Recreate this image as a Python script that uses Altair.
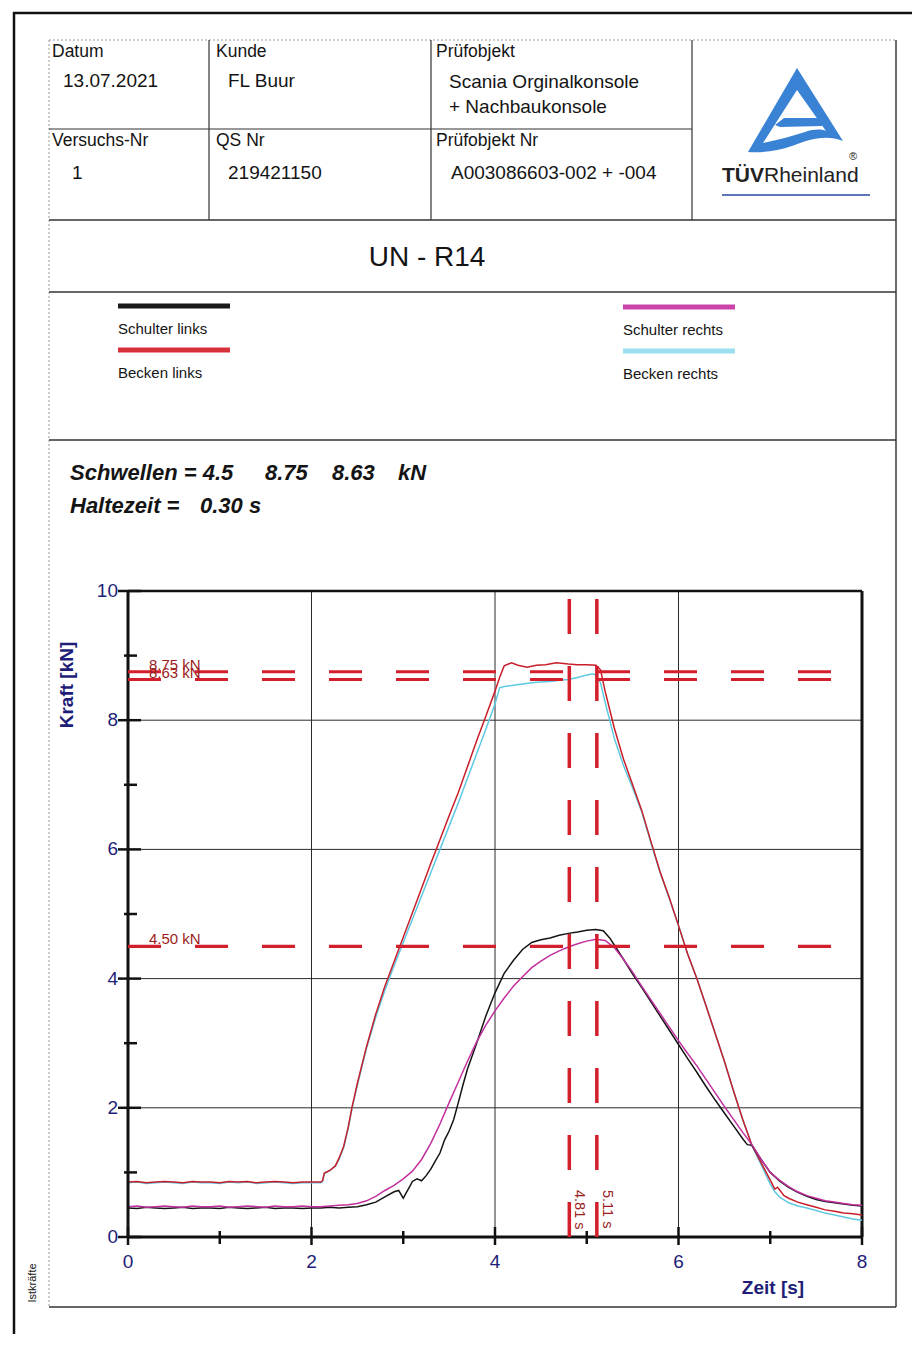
import altair as alt
import pandas as pd

# ---------------- data ----------------
SCHULTER_LINKS = [
    (0.0, 0.45), (0.1, 0.44), (0.2, 0.46), (0.3, 0.45), (0.4, 0.44), (0.5, 0.45), (0.6, 0.46),
    (0.7, 0.44), (0.8, 0.45), (0.9, 0.45), (1.0, 0.44), (1.1, 0.46), (1.2, 0.45), (1.3, 0.44),
    (1.4, 0.45), (1.5, 0.46), (1.6, 0.44), (1.7, 0.45), (1.8, 0.45), (1.9, 0.44), (2.0, 0.45),
    (2.1, 0.45), (2.2, 0.46), (2.3, 0.45), (2.4, 0.46), (2.5, 0.47), (2.6, 0.5), (2.7, 0.54),
    (2.8, 0.62), (2.9, 0.7), (2.95, 0.72), (3.0, 0.6), (3.03, 0.68), (3.07, 0.78), (3.1, 0.86),
    (3.15, 0.9), (3.2, 0.87), (3.25, 0.95), (3.3, 1.05), (3.35, 1.18), (3.4, 1.3), (3.45, 1.5),
    (3.5, 1.64), (3.55, 1.82), (3.6, 2.08), (3.65, 2.35), (3.7, 2.6), (3.8, 3.0), (3.9, 3.42),
    (4.0, 3.78), (4.1, 4.08), (4.2, 4.28), (4.3, 4.45), (4.4, 4.56), (4.5, 4.6), (4.6, 4.63),
    (4.7, 4.67), (4.8, 4.7), (4.9, 4.72), (5.0, 4.75), (5.1, 4.76), (5.18, 4.74), (5.25, 4.63),
    (5.3, 4.52), (5.4, 4.3), (5.5, 4.07), (5.6, 3.86), (5.7, 3.64), (5.8, 3.42), (5.9, 3.2),
    (6.0, 2.98), (6.1, 2.76), (6.2, 2.55), (6.3, 2.33), (6.4, 2.12), (6.5, 1.92), (6.6, 1.72),
    (6.7, 1.52), (6.75, 1.43), (6.8, 1.42), (6.9, 1.2), (7.0, 1.0), (7.1, 0.87), (7.2, 0.77),
    (7.3, 0.69), (7.4, 0.63), (7.5, 0.58), (7.6, 0.55), (7.7, 0.53), (7.8, 0.51), (7.9, 0.49),
    (8.0, 0.48),
]
SCHULTER_RECHTS = [
    (0.0, 0.47), (0.1, 0.48), (0.2, 0.46), (0.3, 0.47), (0.4, 0.48), (0.5, 0.47), (0.6, 0.46),
    (0.7, 0.48), (0.8, 0.47), (0.9, 0.47), (1.0, 0.48), (1.1, 0.46), (1.2, 0.47), (1.3, 0.48),
    (1.4, 0.47), (1.5, 0.46), (1.6, 0.48), (1.7, 0.47), (1.8, 0.47), (1.9, 0.48), (2.0, 0.47),
    (2.1, 0.47), (2.2, 0.48), (2.3, 0.49), (2.4, 0.5), (2.5, 0.52), (2.6, 0.56), (2.7, 0.63),
    (2.8, 0.72), (2.9, 0.8), (3.0, 0.9), (3.1, 1.02), (3.2, 1.2), (3.3, 1.45), (3.4, 1.75),
    (3.5, 2.08), (3.6, 2.4), (3.7, 2.72), (3.8, 3.02), (3.9, 3.28), (4.0, 3.5), (4.1, 3.7),
    (4.2, 3.88), (4.3, 4.03), (4.4, 4.17), (4.5, 4.27), (4.6, 4.36), (4.7, 4.43), (4.8, 4.49),
    (4.9, 4.54), (5.0, 4.58), (5.1, 4.61), (5.2, 4.59), (5.3, 4.48), (5.4, 4.3), (5.5, 4.1),
    (5.6, 3.88), (5.7, 3.67), (5.8, 3.46), (5.9, 3.25), (6.0, 3.04), (6.1, 2.84), (6.2, 2.65),
    (6.3, 2.44), (6.4, 2.23), (6.5, 2.02), (6.6, 1.82), (6.7, 1.62), (6.8, 1.43), (6.9, 1.2),
    (7.0, 1.0), (7.1, 0.88), (7.2, 0.78), (7.3, 0.7), (7.4, 0.64), (7.5, 0.6), (7.6, 0.56),
    (7.7, 0.54), (7.8, 0.52), (7.9, 0.5), (8.0, 0.49),
]
BECKEN_LINKS = [
    (0.0, 0.85), (0.1, 0.86), (0.2, 0.84), (0.3, 0.85), (0.4, 0.86), (0.5, 0.85), (0.6, 0.84),
    (0.7, 0.86), (0.8, 0.85), (0.9, 0.85), (1.0, 0.84), (1.1, 0.86), (1.2, 0.85), (1.3, 0.86),
    (1.4, 0.84), (1.5, 0.85), (1.6, 0.86), (1.7, 0.85), (1.8, 0.84), (1.9, 0.85), (2.0, 0.85),
    (2.1, 0.85), (2.12, 0.87), (2.14, 0.99), (2.2, 1.03), (2.26, 1.1), (2.3, 1.22), (2.35, 1.4),
    (2.4, 1.7), (2.44, 2.0), (2.5, 2.38), (2.6, 2.95), (2.7, 3.45), (2.8, 3.88), (2.9, 4.26),
    (3.0, 4.64), (3.1, 5.02), (3.2, 5.4), (3.3, 5.78), (3.4, 6.15), (3.5, 6.52), (3.6, 6.88),
    (3.7, 7.28), (3.8, 7.68), (3.9, 8.06), (4.0, 8.45), (4.05, 8.66), (4.1, 8.84), (4.18, 8.89),
    (4.25, 8.85), (4.35, 8.82), (4.45, 8.85), (4.55, 8.86), (4.67, 8.89), (4.8, 8.87), (4.9, 8.86),
    (5.0, 8.86), (5.1, 8.85), (5.15, 8.78), (5.2, 8.45), (5.3, 7.88), (5.4, 7.4), (5.5, 7.0),
    (5.6, 6.6), (5.7, 6.12), (5.8, 5.65), (5.9, 5.25), (6.0, 4.82), (6.1, 4.38), (6.2, 4.0),
    (6.3, 3.58), (6.4, 3.15), (6.5, 2.72), (6.6, 2.26), (6.7, 1.82), (6.8, 1.42), (6.9, 1.15),
    (7.0, 0.88), (7.05, 0.74), (7.08, 0.77), (7.15, 0.64), (7.2, 0.6), (7.3, 0.54), (7.4, 0.5),
    (7.5, 0.46), (7.6, 0.42), (7.7, 0.4), (7.8, 0.37), (7.9, 0.36), (8.0, 0.34),
]
BECKEN_RECHTS = [
    (0.0, 0.84), (0.1, 0.85), (0.2, 0.83), (0.3, 0.84), (0.4, 0.85), (0.5, 0.84), (0.6, 0.83),
    (0.7, 0.85), (0.8, 0.84), (0.9, 0.84), (1.0, 0.83), (1.1, 0.85), (1.2, 0.84), (1.3, 0.85),
    (1.4, 0.83), (1.5, 0.84), (1.6, 0.85), (1.7, 0.84), (1.8, 0.83), (1.9, 0.84), (2.0, 0.84),
    (2.1, 0.84), (2.12, 0.86), (2.14, 0.98), (2.2, 1.03), (2.26, 1.1), (2.3, 1.2), (2.35, 1.38),
    (2.4, 1.68), (2.44, 1.98), (2.5, 2.35), (2.6, 2.92), (2.7, 3.4), (2.8, 3.82), (2.9, 4.2),
    (3.0, 4.56), (3.1, 4.92), (3.2, 5.28), (3.3, 5.64), (3.4, 6.0), (3.5, 6.36), (3.6, 6.72),
    (3.7, 7.1), (3.8, 7.48), (3.9, 7.86), (4.0, 8.25), (4.05, 8.5), (4.1, 8.52), (4.2, 8.54),
    (4.3, 8.56), (4.4, 8.58), (4.5, 8.59), (4.6, 8.6), (4.7, 8.62), (4.8, 8.63), (4.9, 8.66),
    (5.0, 8.7), (5.07, 8.72), (5.1, 8.7), (5.15, 8.58), (5.2, 8.28), (5.3, 7.72), (5.4, 7.3),
    (5.5, 6.95), (5.6, 6.58), (5.7, 6.1), (5.8, 5.64), (5.9, 5.24), (6.0, 4.82), (6.1, 4.38),
    (6.2, 4.0), (6.3, 3.58), (6.4, 3.15), (6.5, 2.72), (6.6, 2.26), (6.7, 1.82), (6.8, 1.42),
    (6.9, 1.12), (7.0, 0.82), (7.05, 0.7), (7.1, 0.62), (7.2, 0.53), (7.3, 0.48), (7.4, 0.45),
    (7.5, 0.41), (7.6, 0.37), (7.7, 0.34), (7.8, 0.31), (7.9, 0.28), (8.0, 0.26),
]
SERIES_NAMES = ["Schulter links", "Becken links", "Schulter rechts", "Becken rechts"]
SERIES_COLORS = ["#141414", "#c81e2a", "#c2309f", "#5ec9e2"]
SWATCH_COLORS = ["#1a1a1a", "#d8303a", "#cc44aa", "#9ce0f0"]

THRESHOLDS = [4.5, 8.75, 8.63]
THRESHOLD_LABELS = ["4.50 kN", "8.75 kN", "8.63 kN"]
HOLD_TIMES = [4.81, 5.11]
HOLD_LABELS = ["4.81 s", "5.11 s"]
HALTEZEIT = 0.30

X_DOMAIN = [0, 8]
Y_DOMAIN = [0, 10]
X_MAJOR = [0, 2, 4, 6, 8]
X_MINOR = [1, 3, 5, 7]
Y_MAJOR = [0, 2, 4, 6, 8, 10]
Y_MINOR = [1, 3, 5, 7, 9]
X_GRID = [2, 4, 6]
Y_GRID = [2, 4, 6, 8]

HEADER_LABELS = ["Datum", "Kunde", "Prüfobjekt", "Versuchs-Nr", "QS Nr", "Prüfobjekt Nr"]
HEADER_VALUES = ["13.07.2021", "FL Buur", "Scania Orginalkonsole", "+ Nachbaukonsole",
                 "1", "219421150", "A003086603-002 + -004"]
TITLE = "UN - R14"

# ---------------- layout / style ----------------
OFF = 8
FONT = "Liberation Sans"
NAVY = "#1e1e78"
DARK = "#141414"
DASH_RED = "#d21f2b"
LABEL_RED = "#9b1c1c"
LOGO_BLUE = "#3a82d4"

base = pd.DataFrame({"_": [0]})


def txt(s, x, y, size, align="left", baseline="alphabetic", color=DARK,
        weight="normal", style="normal", angle=0):
    kw = dict(text=s, font=FONT, fontSize=size, align=align, baseline=baseline,
              color=color, fontWeight=weight, fontStyle=style)
    if angle:
        kw["angle"] = angle
    return alt.Chart(base).mark_text(**kw).encode(x=alt.value(x - OFF), y=alt.value(y - OFF))


def hline(x1, x2, y, color, width, dash=None):
    kw = dict(color=color, strokeWidth=width)
    if dash:
        kw["strokeDash"] = dash
    return alt.Chart(base).mark_rule(**kw).encode(
        x=alt.value(x1 - OFF), x2=alt.value(x2 - OFF), y=alt.value(y - OFF))


def vline(x, y1, y2, color, width, dash=None):
    kw = dict(color=color, strokeWidth=width)
    if dash:
        kw["strokeDash"] = dash
    return alt.Chart(base).mark_rule(**kw).encode(
        x=alt.value(x - OFF), y=alt.value(y1 - OFF), y2=alt.value(y2 - OFF))


XS = alt.Scale(domain=X_DOMAIN, range=[128 - OFF, 862 - OFF], nice=False, zero=False)
YS = alt.Scale(domain=Y_DOMAIN, range=[1237 - OFF, 591 - OFF], nice=False, zero=False)


def xq(f):
    return alt.X(f, type="quantitative", scale=XS, axis=None)


def yq(f):
    return alt.Y(f, type="quantitative", scale=YS, axis=None)


layers = []

# page frame
layers.append(hline(13, 912, 13, "#111111", 2.5))
layers.append(vline(14, 12, 1334, "#111111", 2.5))

# table
layers.append(hline(49, 896, 40, "#9a9a9a", 1, [2, 2]))
layers.append(vline(49, 40, 1307, "#9a9a9a", 1, [2, 2]))
layers.append(vline(896, 40, 1307, "#3a3a3a", 1.5))
layers.append(hline(49, 692, 129, "#333333", 1.2))
for cx in (209, 431, 692):
    layers.append(vline(cx, 40, 220, "#333333", 1.2))
for ry in (220, 292, 440, 1307):
    layers.append(hline(49, 896, ry, "#333333", 1.5))

# header texts
label_pos = [(52, 57), (216, 57), (436, 57), (52, 146), (216, 146), (436, 146)]
for s, (x, y) in zip(HEADER_LABELS, label_pos):
    layers.append(txt(s, x, y, 17.5))
value_pos = [(63, 87), (228, 87), (449, 88), (449, 113), (72, 179), (228, 179), (451, 179)]
for s, (x, y) in zip(HEADER_VALUES, value_pos):
    layers.append(txt(s, x, y, 19))

# logo
LOGO_SHAPES = [
    [("M", 797, 68), ("L", 843, 141), ("C", 825, 134, 808, 140, 792, 146),
     ("C", 778, 151, 762, 153, 748, 152)],
    [("M", 797, 90), ("L", 763, 143), ("C", 778, 140, 792, 136, 805, 132),
     ("C", 814, 129, 821, 129, 826, 131)],
    [("M", 775, 125), ("L", 784, 118), ("L", 822, 118), ("L", 822, 126), ("L", 780, 127)],
]


def logo_path(cx, cy, half):
    parts = []
    for shape in LOGO_SHAPES:
        for seg in shape:
            cmd, vals = seg[0], seg[1:]
            pts = []
            for i in range(0, len(vals), 2):
                pts.append(f"{(vals[i] - cx) / half:.4f},{(vals[i + 1] - cy) / half:.4f}")
            parts.append(cmd + " ".join(pts))
        parts.append("Z")
    return " ".join(parts)


LCX, LCY, LHALF = 795, 110, 50
layers.append(alt.Chart(base).mark_point(
    shape=logo_path(LCX, LCY, LHALF), size=(2 * LHALF) ** 2, filled=True,
    color=LOGO_BLUE, opacity=1, strokeWidth=0).encode(
    x=alt.value(LCX - OFF), y=alt.value(LCY - OFF)))
layers.append(txt("TÜV", 722, 182, 21, weight="bold", color="#222222"))
layers.append(txt("Rheinland", 764, 182, 21, color="#222222"))
layers.append(txt("®", 853, 160, 11, align="center", color="#222222"))
layers.append(hline(722, 870, 195, "#2a4aa0", 1.5))

# title
layers.append(txt(TITLE, 427, 266, 28, align="center"))

# legend
legend_pos = [(118, 306, 334), (118, 350, 378), (623, 307, 335), (623, 351, 379)]
for name, col, (x, ly, ty) in zip(SERIES_NAMES, SWATCH_COLORS, legend_pos):
    layers.append(hline(x, x + 112, ly, col, 5))
    layers.append(txt(name, x, ty, 15))

# thresholds text block
layers.append(txt(f"Schwellen = {THRESHOLDS[0]}", 70, 480, 22, weight="bold", style="italic"))
layers.append(txt(f"{THRESHOLDS[1]}", 265, 480, 22, weight="bold", style="italic"))
layers.append(txt(f"{THRESHOLDS[2]}", 332, 480, 22, weight="bold", style="italic"))
layers.append(txt("kN", 398, 480, 22, weight="bold", style="italic"))
layers.append(txt("Haltezeit =", 70, 513, 22, weight="bold", style="italic"))
layers.append(txt(f"{HALTEZEIT:.2f} s", 200, 513, 22, weight="bold", style="italic"))

# ---------------- plot ----------------
GRID = "#2a2a2a"
layers.append(alt.Chart(pd.DataFrame({"t": X_GRID, "y0": Y_DOMAIN[0], "y1": Y_DOMAIN[1]}))
              .mark_rule(color=GRID, strokeWidth=1).encode(x=xq("t"), y=yq("y0"), y2="y1"))
layers.append(alt.Chart(pd.DataFrame({"v": Y_GRID, "x0": X_DOMAIN[0], "x1": X_DOMAIN[1]}))
              .mark_rule(color=GRID, strokeWidth=1).encode(x=xq("x0"), x2="x1", y=yq("v")))

# frame
layers.append(alt.Chart(pd.DataFrame({"v": [Y_DOMAIN[1]], "x0": X_DOMAIN[0], "x1": X_DOMAIN[1]}))
              .mark_rule(color="#111111", strokeWidth=2.5).encode(x=xq("x0"), x2="x1", y=yq("v")))
layers.append(alt.Chart(pd.DataFrame({"t": [X_DOMAIN[1]], "y0": Y_DOMAIN[0], "y1": Y_DOMAIN[1]}))
              .mark_rule(color="#111111", strokeWidth=3).encode(x=xq("t"), y=yq("y0"), y2="y1"))

# ticks
layers.append(alt.Chart(pd.DataFrame({"t": X_MAJOR})).mark_rule(color="#111111", strokeWidth=2.5)
              .encode(x=xq("t"), y=alt.value(1227 - OFF), y2=alt.value(1245 - OFF)))
layers.append(alt.Chart(pd.DataFrame({"t": X_MINOR})).mark_rule(color="#111111", strokeWidth=2.5)
              .encode(x=xq("t"), y=alt.value(1231 - OFF), y2=alt.value(1244 - OFF)))
layers.append(alt.Chart(pd.DataFrame({"v": Y_MAJOR})).mark_rule(color="#111111", strokeWidth=2.5)
              .encode(y=yq("v"), x=alt.value(118 - OFF), x2=alt.value(141 - OFF)))
layers.append(alt.Chart(pd.DataFrame({"v": Y_MINOR})).mark_rule(color="#111111", strokeWidth=2.5)
              .encode(y=yq("v"), x=alt.value(124 - OFF), x2=alt.value(137 - OFF)))

# tick labels
layers.append(alt.Chart(pd.DataFrame({"t": X_MAJOR})).mark_text(
    font=FONT, fontSize=19, color=NAVY, align="center", baseline="alphabetic")
    .encode(x=xq("t"), y=alt.value(1268 - OFF), text="t:Q"))
layers.append(alt.Chart(pd.DataFrame({"v": Y_MAJOR})).mark_text(
    font=FONT, fontSize=19, color=NAVY, align="right", baseline="middle")
    .encode(y=yq("v"), x=alt.value(118 - OFF), text="v:Q"))

# axis titles
layers.append(txt("Kraft [kN]", 67, 685, 19, align="center", baseline="middle",
                  color=NAVY, weight="bold", angle=270))
layers.append(txt("Zeit [s]", 773, 1294, 19, align="center", color=NAVY, weight="bold"))
layers.append(txt("Istkräfte", 33, 1283, 11, align="center", baseline="middle", angle=270))

# curves (drawn cyan, red, black, magenta)
curve_sets = [(BECKEN_RECHTS, SERIES_COLORS[3]), (BECKEN_LINKS, SERIES_COLORS[1]),
              (SCHULTER_LINKS, SERIES_COLORS[0]), (SCHULTER_RECHTS, SERIES_COLORS[2])]
for pts, col in curve_sets:
    df = pd.DataFrame(pts, columns=["t", "v"])
    layers.append(alt.Chart(df).mark_line(color=col, strokeWidth=1.5)
                  .encode(x=xq("t"), y=yq("v")))

# axes lines (left and bottom)
layers.append(alt.Chart(pd.DataFrame({"t": [X_DOMAIN[0]], "y0": Y_DOMAIN[0], "y1": Y_DOMAIN[1]}))
              .mark_rule(color="#111111", strokeWidth=3).encode(x=xq("t"), y=yq("y0"), y2="y1"))
layers.append(alt.Chart(pd.DataFrame({"v": [Y_DOMAIN[0]], "x0": X_DOMAIN[0], "x1": X_DOMAIN[1]}))
              .mark_rule(color="#111111", strokeWidth=3).encode(x=xq("x0"), x2="x1", y=yq("v")))

# thresholds
thr = pd.DataFrame({"v": THRESHOLDS, "label": THRESHOLD_LABELS,
                    "x0": X_DOMAIN[0], "x1": X_DOMAIN[1]})
layers.append(alt.Chart(thr).mark_rule(color=DASH_RED, strokeWidth=3.2, strokeDash=[33, 34])
              .encode(x=xq("x0"), x2="x1", y=yq("v")))
layers.append(alt.Chart(thr).mark_text(font=FONT, fontSize=15, color=LABEL_RED, align="left",
                                       baseline="alphabetic", dx=21, dy=-2)
              .encode(x=xq("x0"), y=yq("v"), text="label:N"))

hold = pd.DataFrame({"t": HOLD_TIMES, "label": HOLD_LABELS,
                     "y0": Y_DOMAIN[0], "y1": Y_DOMAIN[1]})
layers.append(alt.Chart(hold).mark_rule(color=DASH_RED, strokeWidth=3.5, strokeDash=[35, 32])
              .encode(x=xq("t"), y=yq("y0"), y2="y1"))
layers.append(alt.Chart(hold).mark_text(font=FONT, fontSize=14.5, color=LABEL_RED, angle=90,
                                        align="left", baseline="middle", dy=-10)
              .encode(x=xq("t"), y=alt.value(1190 - OFF), text="label:N"))

chart = alt.layer(*layers).properties(
    width=904, height=1326, padding=0,
    autosize=alt.AutoSizeParams(type="none"),
    background="white",
).configure_view(stroke=None)

chart.save("out.html", embed_options={"renderer": "svg", "actions": False})
